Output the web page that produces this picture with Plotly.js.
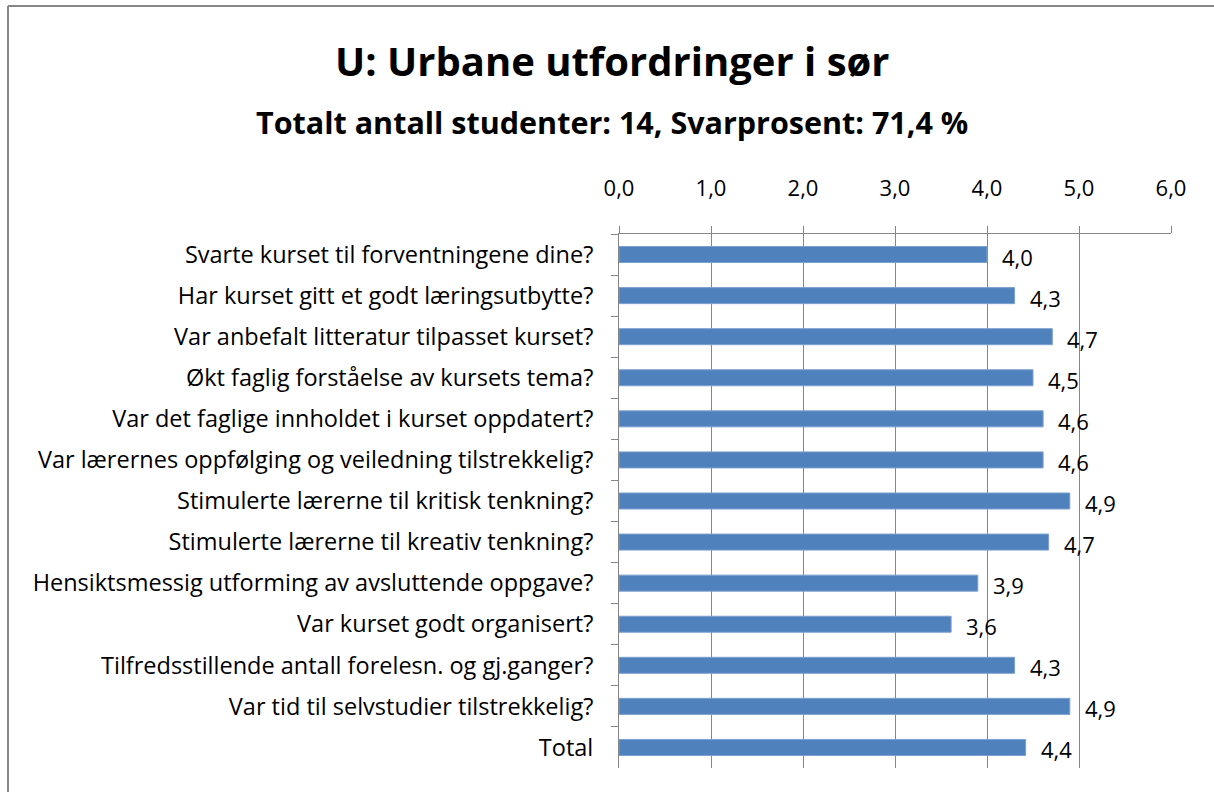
<!DOCTYPE html>
<html>
<head>
<meta charset="utf-8">
<script src="https://cdn.plot.ly/plotly-3.0.1.min.js"></script>
<style>html,body{margin:0;padding:0;background:#fff;}#chart{width:1214px;height:792px;}</style>
</head>
<body>
<div id="chart"></div>
<script>
const categories = [
  "Svarte kurset til forventningene dine?",
  "Har kurset gitt et godt læringsutbytte?",
  "Var anbefalt litteratur tilpasset kurset?",
  "Økt faglig forståelse av kursets tema?",
  "Var det faglige innholdet i kurset oppdatert?",
  "Var lærernes oppfølging og veiledning tilstrekkelig?",
  "Stimulerte lærerne til kritisk tenkning?",
  "Stimulerte lærerne til kreativ tenkning?",
  "Hensiktsmessig utforming av avsluttende oppgave?",
  "Var kurset godt organisert?",
  "Tilfredsstillende antall forelesn. og gj.ganger?",
  "Var tid til selvstudier tilstrekkelig?",
  "Total"
];
const values = [4.0, 4.3, 4.71, 4.5, 4.61, 4.61, 4.9, 4.67, 3.9, 3.61, 4.3, 4.9, 4.42];
const titleText = "U: Urbane utfordringer i sør";
const subtitleText = "Totalt antall studenter: 14, Svarprosent: 71,4 %";

const FONT = "'Open Sans', sans-serif";
const GRID = "#868686";

const trace = {
  type: "bar",
  orientation: "h",
  y: categories,
  x: values,
  marker: {color: "#4F81BD", line: {color: "#7DA0CF", width: 1}},
  hoverinfo: "none"
};

const valueAnnotations = categories.map((c, i) => ({
  x: values[i], y: c, xref: "x", yref: "y",
  text: values[i].toFixed(1).replace(".", ","),
  showarrow: false, xanchor: "left", yanchor: "middle",
  xshift: 13, yshift: -2,
  font: {family: FONT, size: 22, color: "#000"}
}));

// plot area: left 619, right 1171, top 234, bottom 768
const L = 619, R = 1171, T = 234, B = 768;
const W = R - L, H = B - T;
const px2x = p => (p - L) / W;
const py2y = p => (B - p) / H;

const layout = {
  width: 1214, height: 792,
  margin: {l: L, r: 1214 - R, t: T, b: 792 - B, pad: 0},
  paper_bgcolor: "#fff", plot_bgcolor: "#fff",
  separators: ", ",
  showlegend: false,
  bargap: 0.61,
  font: {family: FONT, color: "#000"},
  xaxis: {
    side: "top", range: [0, 6], dtick: 1, tick0: 0, tickformat: ".1f",
    showgrid: true, gridcolor: GRID, gridwidth: 1,
    showline: true, linecolor: GRID, linewidth: 1,
    ticks: "outside", ticklen: 7, tickcolor: GRID,
    ticklabelstandoff: 21,
    zeroline: false, fixedrange: true,
    tickfont: {family: FONT, size: 22, color: "#000"}
  },
  yaxis: {
    type: "category", autorange: "reversed",
    showline: true, linecolor: GRID, linewidth: 1,
    ticks: "outside", tickson: "boundaries", ticklen: 7, tickcolor: GRID,
    ticklabelstandoff: 20,
    showgrid: false, zeroline: false, fixedrange: true,
    tickfont: {family: FONT, size: 23.5, color: "#000"}
  },
  annotations: [
    {x: px2x(612), y: py2y(60), xref: "paper", yref: "paper", text: titleText,
     showarrow: false, xanchor: "center", yanchor: "middle",
     font: {family: FONT, size: 40, weight: "bold", color: "#000"}},
    {x: px2x(612), y: py2y(122), xref: "paper", yref: "paper", text: subtitleText,
     showarrow: false, xanchor: "center", yanchor: "middle",
     font: {family: FONT, size: 30.5, weight: "bold", color: "#000"}}
  ].concat(valueAnnotations),
  shapes: [
    {type: "line", xref: "paper", yref: "paper", x0: px2x(8), x1: px2x(8), y0: py2y(6), y1: py2y(800),
     line: {color: GRID, width: 2}},
    {type: "line", xref: "paper", yref: "paper", x0: px2x(8), x1: px2x(1220), y0: py2y(6), y1: py2y(6),
     line: {color: GRID, width: 2}}
  ]
};

Plotly.newPlot("chart", [trace], layout, {displayModeBar: false, staticPlot: true});
</script>
</body>
</html>
